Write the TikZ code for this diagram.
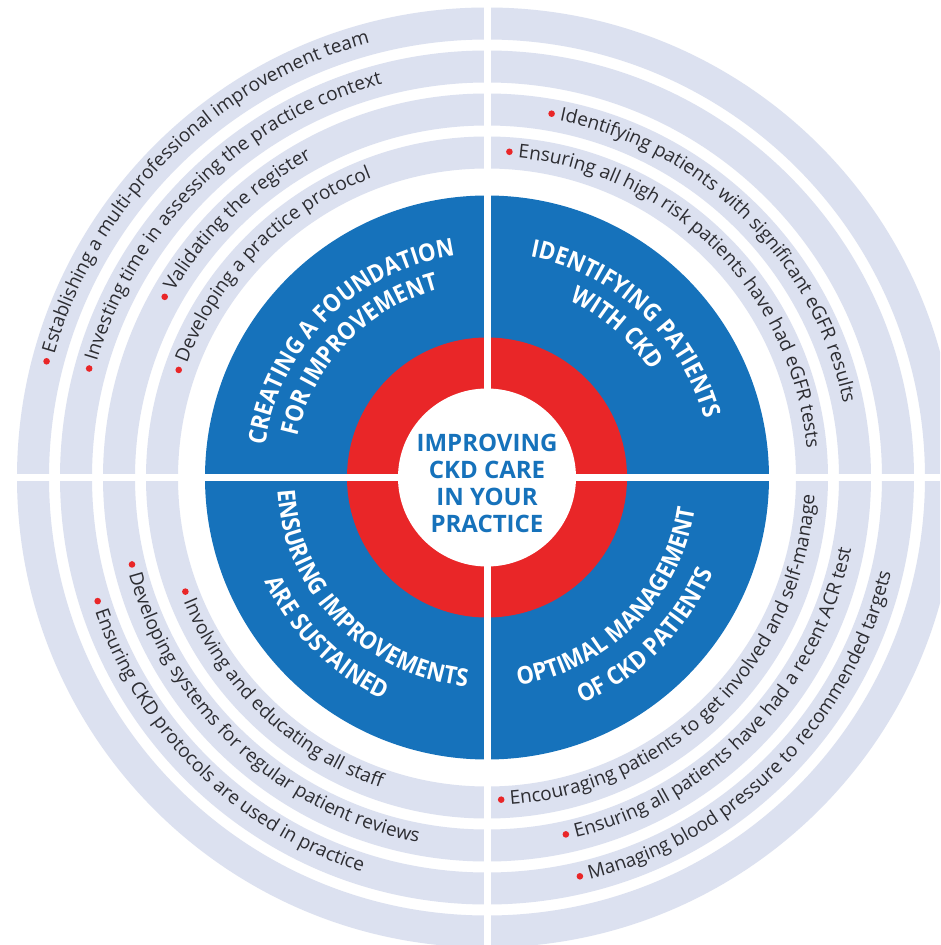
\documentclass[tikz,border=0pt]{standalone}
\usepackage{fontspec}
\setmainfont{Open Sans}
\newfontfamily\headfamily[FakeStretch=0.9]{Open Sans}
\usetikzlibrary{decorations.text}

\definecolor{ringgray}{RGB}{220,225,240}
\definecolor{wheelblue}{RGB}{22,114,187}
\definecolor{wheelred}{RGB}{233,38,40}
\definecolor{itemtext}{RGB}{45,45,50}

\newcommand\itemfont{\fontsize{19}{21}\selectfont}
\newcommand\titlefont{\headfamily\bfseries\fontsize{24.5}{28}\selectfont}

% bullet item set along an arc: radius, start angle, end angle, text
% (start > end runs clockwise with letters outward, start < end anticlockwise)
\newcommand\banditem[4]{%
  \pgfmathsetmacro\itemdir{sign(#3-#2)}%
  \pgfmathsetmacro\dotang{#2+\itemdir*3/#1*57.2958}%
  \pgfmathsetmacro\dotrad{#1-\itemdir*5.5}%
  \pgfmathsetmacro\txtang{#2+\itemdir*12/#1*57.2958}%
  \fill[wheelred] (\dotang:\dotrad) circle[radius=3.3];
  \path[decorate, decoration={text along path, text align=left,
      text={|\itemfont\color{itemtext}|#4}}]
    (\txtang:#1) arc[start angle=\txtang, end angle=#3, radius=#1];}

% white quadrant heading centred on an arc: radius, start angle, end angle, text
\newcommand\quadtitle[4]{%
  \path[decorate, decoration={text along path, text align=center,
      text={|\titlefont\color{white}|#4}}]
    (#2:#1) arc[start angle=#2, end angle=#3, radius=#1];}

\begin{document}
\begin{tikzpicture}[x=1pt,y=1pt]
  \path[use as bounding box] (-487,-467.5) rectangle (453,477.5);
  \clip (-487,-467.5) rectangle (453,477.5);
  \fill[white] (-487,-467.5) rectangle (453,477.5);

  % outer grey rings
  \foreach \ri in {309,352,395,438}
    \fill[ringgray, even odd rule] (0,0) circle[radius=\ri+32] (0,0) circle[radius=\ri];

  % blue disc, red ring, white hub
  \fill[wheelblue] (0,0) circle[radius=282];
  \fill[wheelred] (0,0) circle[radius=140];
  \fill[white] (0,0) circle[radius=89];

  % white cross splitting the wheel into quadrants
  \fill[white] (-3.5,-500) rectangle (3.5,500);
  \fill[white] (-500,-3.5) rectangle (500,3.5);

  % hub label
  \node[align=center, text=wheelblue, font=\bfseries\fontsize{24}{27}\selectfont]
    (hub) at (0,-6) {IMPROVING\\CKD CARE\\IN YOUR\\PRACTICE};

  % quadrant headings
  \quadtitle{224}{180}{90}{CREATING A FOUNDATION}
  \quadtitle{194}{181}{91}{FOR IMPROVEMENT}
  \quadtitle{225}{92}{2}{IDENTIFYING PATIENTS}
  \quadtitle{195}{94}{4}{WITH CKD}
  \quadtitle{210}{179}{269}{ENSURING IMPROVEMENTS}
  \quadtitle{245}{180}{270}{ARE SUSTAINED}
  \quadtitle{210}{270}{360}{OPTIMAL MANAGEMENT}
  \quadtitle{245}{270}{360}{OF CKD PATIENTS}

  % top-left items
  \banditem{450}{165.6}{92}{Establishing a multi-professional improvement team}
  \banditem{407}{165.1}{92}{Investing time in assessing the practice context}
  \banditem{364}{151.2}{92}{Validating the register}
  \banditem{321}{161.3}{92}{Developing a practice protocol}

  % top-right items
  \banditem{364}{80.4}{1}{Identifying patients with significant eGFR results}
  \banditem{321}{86.6}{1}{Ensuring all high risk patients have had eGFR tests}

  % bottom-left items
  \banditem{328}{200.2}{268}{Involving and educating all staff}
  \banditem{371}{193.3}{268}{Developing systems for regular patient reviews}
  \banditem{414}{197.2}{268}{Ensuring CKD protocols are used in practice}

  % bottom-right items
  \banditem{328}{-88}{-1}{Encouraging patients to get involved and self-manage}
  \banditem{371}{-78}{-1}{Ensuring all patients have had a recent ACR test}
  \banditem{415}{-77.3}{-1}{Managing blood pressure to recommended targets}
\end{tikzpicture}
\end{document}
